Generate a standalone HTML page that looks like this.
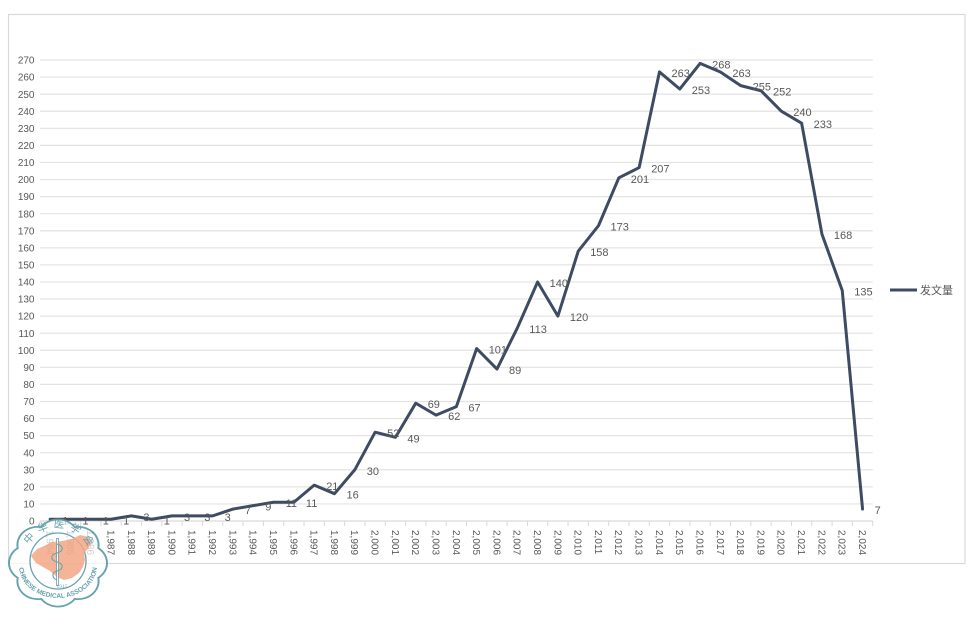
<!DOCTYPE html>
<html><head><meta charset="utf-8"><style>
html,body{margin:0;padding:0;background:#fff;}
svg{display:block;}
.yl{font-family:"Liberation Sans",sans-serif;font-size:10px;fill:#595959;text-anchor:end;}
.xl{font-family:"Liberation Sans",sans-serif;font-size:10px;fill:#595959;}
.dl{font-family:"Liberation Sans",sans-serif;font-size:11px;fill:#595959;}
</style></head><body>
<svg width="973" height="618" viewBox="0 0 973 618" xmlns="http://www.w3.org/2000/svg">
<rect x="8.5" y="14.5" width="956.5" height="549" fill="#fff" stroke="#d9d9d9" stroke-width="1.2"/>
<g stroke="#e3e3e3" stroke-width="1.2">
<line x1="40" x2="872.7" y1="503.93" y2="503.93"/><line x1="40" x2="872.7" y1="486.85" y2="486.85"/><line x1="40" x2="872.7" y1="469.78" y2="469.78"/><line x1="40" x2="872.7" y1="452.70" y2="452.70"/><line x1="40" x2="872.7" y1="435.63" y2="435.63"/><line x1="40" x2="872.7" y1="418.56" y2="418.56"/><line x1="40" x2="872.7" y1="401.48" y2="401.48"/><line x1="40" x2="872.7" y1="384.41" y2="384.41"/><line x1="40" x2="872.7" y1="367.33" y2="367.33"/><line x1="40" x2="872.7" y1="350.26" y2="350.26"/><line x1="40" x2="872.7" y1="333.19" y2="333.19"/><line x1="40" x2="872.7" y1="316.11" y2="316.11"/><line x1="40" x2="872.7" y1="299.04" y2="299.04"/><line x1="40" x2="872.7" y1="281.96" y2="281.96"/><line x1="40" x2="872.7" y1="264.89" y2="264.89"/><line x1="40" x2="872.7" y1="247.82" y2="247.82"/><line x1="40" x2="872.7" y1="230.74" y2="230.74"/><line x1="40" x2="872.7" y1="213.67" y2="213.67"/><line x1="40" x2="872.7" y1="196.59" y2="196.59"/><line x1="40" x2="872.7" y1="179.52" y2="179.52"/><line x1="40" x2="872.7" y1="162.44" y2="162.44"/><line x1="40" x2="872.7" y1="145.37" y2="145.37"/><line x1="40" x2="872.7" y1="128.30" y2="128.30"/><line x1="40" x2="872.7" y1="111.22" y2="111.22"/><line x1="40" x2="872.7" y1="94.15" y2="94.15"/><line x1="40" x2="872.7" y1="77.07" y2="77.07"/><line x1="40" x2="872.7" y1="60.00" y2="60.00"/>
</g>
<line x1="40" x2="872.7" y1="521" y2="521" stroke="#d9d9d9" stroke-width="1.2"/>
<g stroke="#d9d9d9" stroke-width="1">
<line x1="40" x2="40" y1="521" y2="526"/><line x1="60.31" x2="60.31" y1="521" y2="526"/><line x1="80.62" x2="80.62" y1="521" y2="526"/><line x1="100.93" x2="100.93" y1="521" y2="526"/><line x1="121.24" x2="121.24" y1="521" y2="526"/><line x1="141.55" x2="141.55" y1="521" y2="526"/><line x1="161.86" x2="161.86" y1="521" y2="526"/><line x1="182.17" x2="182.17" y1="521" y2="526"/><line x1="202.48" x2="202.48" y1="521" y2="526"/><line x1="222.79" x2="222.79" y1="521" y2="526"/><line x1="243.1" x2="243.1" y1="521" y2="526"/><line x1="263.41" x2="263.41" y1="521" y2="526"/><line x1="283.72" x2="283.72" y1="521" y2="526"/><line x1="304.03" x2="304.03" y1="521" y2="526"/><line x1="324.34" x2="324.34" y1="521" y2="526"/><line x1="344.65" x2="344.65" y1="521" y2="526"/><line x1="364.96" x2="364.96" y1="521" y2="526"/><line x1="385.27" x2="385.27" y1="521" y2="526"/><line x1="405.58" x2="405.58" y1="521" y2="526"/><line x1="425.89" x2="425.89" y1="521" y2="526"/><line x1="446.2" x2="446.2" y1="521" y2="526"/><line x1="466.51" x2="466.51" y1="521" y2="526"/><line x1="486.82" x2="486.82" y1="521" y2="526"/><line x1="507.13" x2="507.13" y1="521" y2="526"/><line x1="527.44" x2="527.44" y1="521" y2="526"/><line x1="547.75" x2="547.75" y1="521" y2="526"/><line x1="568.06" x2="568.06" y1="521" y2="526"/><line x1="588.37" x2="588.37" y1="521" y2="526"/><line x1="608.68" x2="608.68" y1="521" y2="526"/><line x1="628.99" x2="628.99" y1="521" y2="526"/><line x1="649.3" x2="649.3" y1="521" y2="526"/><line x1="669.61" x2="669.61" y1="521" y2="526"/><line x1="689.92" x2="689.92" y1="521" y2="526"/><line x1="710.23" x2="710.23" y1="521" y2="526"/><line x1="730.54" x2="730.54" y1="521" y2="526"/><line x1="750.85" x2="750.85" y1="521" y2="526"/><line x1="771.16" x2="771.16" y1="521" y2="526"/><line x1="791.47" x2="791.47" y1="521" y2="526"/><line x1="811.78" x2="811.78" y1="521" y2="526"/><line x1="832.09" x2="832.09" y1="521" y2="526"/><line x1="852.4" x2="852.4" y1="521" y2="526"/><line x1="872.71" x2="872.71" y1="521" y2="526"/>
</g>
<g class="yl">
<text x="34.5" y="524.6">0</text><text x="34.5" y="507.5">10</text><text x="34.5" y="490.4">20</text><text x="34.5" y="473.4">30</text><text x="34.5" y="456.3">40</text><text x="34.5" y="439.2">50</text><text x="34.5" y="422.2">60</text><text x="34.5" y="405.1">70</text><text x="34.5" y="388.0">80</text><text x="34.5" y="370.9">90</text><text x="34.5" y="353.9">100</text><text x="34.5" y="336.8">110</text><text x="34.5" y="319.7">120</text><text x="34.5" y="302.6">130</text><text x="34.5" y="285.6">140</text><text x="34.5" y="268.5">150</text><text x="34.5" y="251.4">160</text><text x="34.5" y="234.3">170</text><text x="34.5" y="217.3">180</text><text x="34.5" y="200.2">190</text><text x="34.5" y="183.1">200</text><text x="34.5" y="166.0">210</text><text x="34.5" y="149.0">220</text><text x="34.5" y="131.9">230</text><text x="34.5" y="114.8">240</text><text x="34.5" y="97.8">250</text><text x="34.5" y="80.7">260</text><text x="34.5" y="63.6">270</text>
</g>
<g class="xl">
<text transform="translate(46.56,530) rotate(90)">1,984</text>
<text transform="translate(66.87,530) rotate(90)">1,985</text>
<text transform="translate(87.18,530) rotate(90)">1,986</text>
<text transform="translate(107.49,530) rotate(90)">1,987</text>
<text transform="translate(127.80,530) rotate(90)">1,988</text>
<text transform="translate(148.11,530) rotate(90)">1,989</text>
<text transform="translate(168.42,530) rotate(90)">1,990</text>
<text transform="translate(188.73,530) rotate(90)">1,991</text>
<text transform="translate(209.04,530) rotate(90)">1,992</text>
<text transform="translate(229.35,530) rotate(90)">1,993</text>
<text transform="translate(249.66,530) rotate(90)">1,994</text>
<text transform="translate(269.97,530) rotate(90)">1,995</text>
<text transform="translate(290.28,530) rotate(90)">1,996</text>
<text transform="translate(310.59,530) rotate(90)">1,997</text>
<text transform="translate(330.90,530) rotate(90)">1,998</text>
<text transform="translate(351.21,530) rotate(90)">1,999</text>
<text transform="translate(371.52,530) rotate(90)">2,000</text>
<text transform="translate(391.83,530) rotate(90)">2,001</text>
<text transform="translate(412.14,530) rotate(90)">2,002</text>
<text transform="translate(432.45,530) rotate(90)">2,003</text>
<text transform="translate(452.76,530) rotate(90)">2,004</text>
<text transform="translate(473.07,530) rotate(90)">2,005</text>
<text transform="translate(493.38,530) rotate(90)">2,006</text>
<text transform="translate(513.69,530) rotate(90)">2,007</text>
<text transform="translate(534.00,530) rotate(90)">2,008</text>
<text transform="translate(554.31,530) rotate(90)">2,009</text>
<text transform="translate(574.62,530) rotate(90)">2,010</text>
<text transform="translate(594.93,530) rotate(90)">2,011</text>
<text transform="translate(615.24,530) rotate(90)">2,012</text>
<text transform="translate(635.55,530) rotate(90)">2,013</text>
<text transform="translate(655.86,530) rotate(90)">2,014</text>
<text transform="translate(676.17,530) rotate(90)">2,015</text>
<text transform="translate(696.48,530) rotate(90)">2,016</text>
<text transform="translate(716.79,530) rotate(90)">2,017</text>
<text transform="translate(737.10,530) rotate(90)">2,018</text>
<text transform="translate(757.41,530) rotate(90)">2,019</text>
<text transform="translate(777.72,530) rotate(90)">2,020</text>
<text transform="translate(798.03,530) rotate(90)">2,021</text>
<text transform="translate(818.34,530) rotate(90)">2,022</text>
<text transform="translate(838.65,530) rotate(90)">2,023</text>
<text transform="translate(858.96,530) rotate(90)">2,024</text>
</g>
<polyline fill="none" stroke="#3e4b62" stroke-width="3" stroke-linejoin="round" stroke-linecap="round" points="50.16,519.29 70.47,519.29 90.78,519.29 111.09,519.29 131.40,515.88 151.71,519.29 172.02,515.88 192.33,515.88 212.64,515.88 232.95,509.05 253.26,505.63 273.57,502.22 293.88,502.22 314.19,485.14 334.50,493.68 354.81,469.78 375.12,432.22 395.43,437.34 415.74,403.19 436.05,415.14 456.36,406.60 476.67,348.55 496.98,369.04 517.29,328.06 537.60,281.96 557.91,316.11 578.22,251.23 598.53,225.62 618.84,177.81 639.15,167.57 659.46,71.95 679.77,89.03 700.08,63.42 720.39,71.95 740.70,85.61 761.01,90.74 781.32,111.22 801.63,123.18 821.94,234.16 842.25,290.50 862.56,509.05"/>
<g class="dl">
<text x="62.2" y="524.3">1</text><text x="82.5" y="524.3">1</text><text x="102.8" y="524.3">1</text><text x="123.1" y="524.3">1</text><text x="143.4" y="520.9">3</text><text x="163.7" y="524.3">1</text><text x="184.0" y="520.9">3</text><text x="204.3" y="520.9">3</text><text x="224.6" y="520.9">3</text><text x="244.9" y="514.1">7</text><text x="265.3" y="510.6">9</text><text x="285.6" y="507.2">11</text><text x="305.9" y="507.2">11</text><text x="326.2" y="490.1">21</text><text x="346.5" y="498.7">16</text><text x="366.8" y="474.8">30</text><text x="387.1" y="437.2">52</text><text x="407.4" y="442.3">49</text><text x="427.7" y="408.2">69</text><text x="448.1" y="420.1">62</text><text x="468.4" y="411.6">67</text><text x="488.7" y="353.6">101</text><text x="509.0" y="374.0">89</text><text x="529.3" y="333.1">113</text><text x="549.6" y="287.0">140</text><text x="569.9" y="321.1">120</text><text x="590.2" y="256.2">158</text><text x="610.5" y="230.6">173</text><text x="630.8" y="182.8">201</text><text x="651.2" y="172.6">207</text><text x="671.5" y="77.0">263</text><text x="691.8" y="94.0">253</text><text x="712.1" y="68.4">268</text><text x="732.4" y="77.0">263</text><text x="752.7" y="90.6">255</text><text x="773.0" y="95.7">252</text><text x="793.3" y="116.2">240</text><text x="813.6" y="128.2">233</text><text x="833.9" y="239.2">168</text><text x="854.3" y="295.5">135</text><text x="874.6" y="514.1">7</text>
</g>
<line x1="890" x2="917" y1="290" y2="290" stroke="#3e4b62" stroke-width="3"/>
<text x="920" y="294" style="font-family:'Liberation Sans','Noto Sans CJK SC',sans-serif;font-size:11px;fill:#595959;">发文量</text>
<!-- logo -->
<g opacity="0.95">
<path transform="translate(58,563) scale(1.09,0.97)" d="M36.96,15.31 A18.65,18.65 0 0 1 15.31,36.96 A18.65,18.65 0 0 1 -15.31,36.96 A18.65,18.65 0 0 1 -36.96,15.31 A18.65,18.65 0 0 1 -36.96,-15.31 A18.65,18.65 0 0 1 -15.31,-36.96 A18.65,18.65 0 0 1 15.31,-36.96 A18.65,18.65 0 0 1 36.96,-15.31 A18.65,18.65 0 0 1 36.96,15.31 Z" fill="#ffffff" fill-opacity="0.75" stroke="#5f9ea9" stroke-width="1.8"/>
<circle cx="58" cy="561" r="28" fill="none" stroke="#5f9ea9" stroke-width="1.3"/>
<path d="M31,556 L37,549 L44,546 L52,542 L62,541 L72,539 L80,535 L88,537 L91,544 L88,549 L84,553 L85,560 L83,567 L79,573 L72,578 L64,580 L57,577 L50,571 L43,567 L36,563 Z" fill="#f3a27f" fill-opacity="0.85"/>
<line x1="57.5" y1="538" x2="57.5" y2="586" stroke="#5f9ea9" stroke-width="2.6"/>
<line x1="57.5" y1="539" x2="57.5" y2="585" stroke="#ffffff" stroke-width="1"/>
<path d="M57,544 C64,546 64,551 57,553 C50,555 50,560 57,562 C64,564 64,569 57,571 C51,573 52,578 57,580" fill="none" stroke="#5f9ea9" stroke-width="1.1"/>
<defs>
<path id="toparc" d="M26.5,551 A33,33 0 0 1 89.5,551"/>
<path id="botarc" d="M19,566 A39,32 0 0 0 97,566"/>
</defs>
<text style="font-family:'Liberation Sans','Noto Sans CJK SC',sans-serif;font-size:10.5px;fill:#5f9ea9;letter-spacing:5px;" text-anchor="middle"><textPath href="#toparc" startOffset="54%">中华医学会</textPath></text>
<text style="font-family:'Liberation Sans',sans-serif;font-size:6.6px;font-weight:bold;fill:#5f9ea9;" text-anchor="middle"><textPath href="#botarc" startOffset="50%">CHINESE MEDICAL ASSOCIATION</textPath></text>
<text x="62" y="588" style="font-family:'Liberation Serif',serif;font-size:5.5px;fill:#5f9ea9;" text-anchor="middle">1915</text>
</g>
</svg>
</body></html>
